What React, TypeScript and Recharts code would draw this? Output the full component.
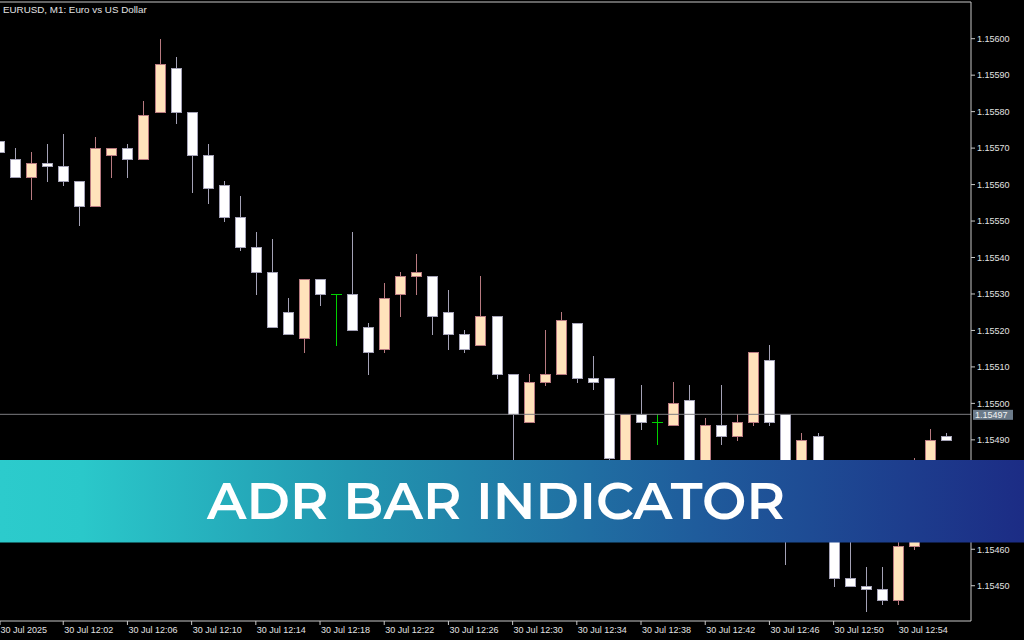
import React from 'react';
import { ComposedChart, Bar, XAxis, YAxis, ReferenceLine } from 'recharts';

const chartTitle = 'EURUSD, M1:  Euro vs US Dollar';
const bannerText = 'ADR BAR INDICATOR';

const times = [
  '11:58', '11:59', '12:00', '12:01', '12:02', '12:03', '12:04', '12:05', '12:06', '12:07',
  '12:08', '12:09', '12:10', '12:11', '12:12', '12:13', '12:14', '12:15', '12:16', '12:17',
  '12:18', '12:19', '12:20', '12:21', '12:22', '12:23', '12:24', '12:25', '12:26', '12:27',
  '12:28', '12:29', '12:30', '12:31', '12:32', '12:33', '12:34', '12:35', '12:36', '12:37',
  '12:38', '12:39', '12:40', '12:41', '12:42', '12:43', '12:44', '12:45', '12:46', '12:47',
  '12:48', '12:49', '12:50', '12:51', '12:52', '12:53', '12:54', '12:55', '12:56', '12:57',
];

const opens = [
  1.15572, 1.15567, 1.15562, 1.15566, 1.15565, 1.15561, 1.15554, 1.15568, 1.1557, 1.15567,
  1.1558, 1.15592, 1.1558, 1.15568, 1.1556, 1.15551, 1.15543, 1.15536, 1.15525, 1.15518,
  1.15534, 1.1553, 1.1553, 1.15521, 1.15515, 1.1553, 1.15535, 1.15535, 1.15525, 1.15519,
  1.15516, 1.15524, 1.15508, 1.15495, 1.15506, 1.15508, 1.15522, 1.15507, 1.15507, 1.15474,
  1.15497, 1.15495, 1.15494, 1.15501, 1.15475, 1.15494, 1.15491, 1.15495, 1.15512, 1.15497,
  1.15471, 1.15491, 1.15468, 1.15452, 1.1545, 1.15449, 1.15446, 1.15461, 1.15466, 1.15491,
];

const highs = [
  1.15572, 1.1557, 1.15569, 1.15571, 1.15574, 1.15561, 1.15573, 1.1557, 1.15571, 1.15583,
  1.156, 1.15595, 1.1558, 1.15571, 1.15561, 1.15557, 1.15547, 1.15545, 1.15529, 1.15534,
  1.15534, 1.1553, 1.15547, 1.15522, 1.15533, 1.15536, 1.15541, 1.15535, 1.15531, 1.1552,
  1.15535, 1.15524, 1.15508, 1.15508, 1.1552, 1.15525, 1.15522, 1.15513, 1.15507, 1.15497,
  1.15505, 1.15497, 1.15506, 1.15505, 1.15496, 1.15505, 1.15497, 1.15514, 1.15516, 1.15497,
  1.15492, 1.15492, 1.1547, 1.15466, 1.15455, 1.15455, 1.15464, 1.15485, 1.15493, 1.15492,
];

const lows = [
  1.15569, 1.15562, 1.15556, 1.15561, 1.1556, 1.15549, 1.15554, 1.15562, 1.15562, 1.15567,
  1.1558, 1.15577, 1.15558, 1.15555, 1.1555, 1.15542, 1.1553, 1.15521, 1.15519, 1.15514,
  1.15527, 1.15516, 1.1552, 1.15508, 1.15514, 1.15524, 1.1553, 1.15519, 1.15515, 1.15514,
  1.15516, 1.15507, 1.15472, 1.15495, 1.15505, 1.15508, 1.15506, 1.15504, 1.15484, 1.15472,
  1.15493, 1.15489, 1.15494, 1.1547, 1.15473, 1.15489, 1.1549, 1.15494, 1.15494, 1.15456,
  1.15468, 1.15466, 1.1545, 1.1545, 1.15443, 1.15445, 1.15445, 1.1546, 1.15464, 1.1549,
];

const closes = [
  1.15569, 1.15562, 1.15566, 1.15565, 1.15561, 1.15554, 1.1557, 1.1557, 1.15567, 1.15579,
  1.15593, 1.1558, 1.15568, 1.15559, 1.15551, 1.15543, 1.15536, 1.15521, 1.15519, 1.15534,
  1.1553, 1.1553, 1.1552, 1.15514, 1.15529, 1.15535, 1.15536, 1.15524, 1.15519, 1.15515,
  1.15524, 1.15508, 1.15497, 1.15506, 1.15508, 1.15523, 1.15507, 1.15506, 1.15485, 1.15497,
  1.15495, 1.15495, 1.155, 1.15474, 1.15494, 1.15491, 1.15495, 1.15514, 1.15495, 1.1547,
  1.1549, 1.15468, 1.15452, 1.1545, 1.15449, 1.15446, 1.15461, 1.15464, 1.1549, 1.1549,
];

const priceTicks = [
  1.1545, 1.1546, 1.1547, 1.1548, 1.1549, 1.155, 1.1551, 1.1552,
  1.1553, 1.1554, 1.1555, 1.1556, 1.1557, 1.1558, 1.1559, 1.156,
];
const priceMin = 1.1544033;
const priceMax = 1.1561006;
const currentPrice = 1.15497;

const timeTickValues = [0.06, 4, 8, 12, 16, 20, 24, 28, 32, 36, 40, 44, 48, 52, 56];
const timeTickLabels = [
  '30 Jul 2025', '30 Jul 12:02', '30 Jul 12:06', '30 Jul 12:10', '30 Jul 12:14',
  '30 Jul 12:18', '30 Jul 12:22', '30 Jul 12:26', '30 Jul 12:30', '30 Jul 12:34',
  '30 Jul 12:38', '30 Jul 12:42', '30 Jul 12:46', '30 Jul 12:50', '30 Jul 12:54',
];

const candles = times.map((t, i) => ({
  idx: i,
  time: t,
  open: opens[i],
  high: highs[i],
  low: lows[i],
  close: closes[i],
}));

const BULL_FILL = '#ffe3bb';
const BULL_LINE = '#b87a80';
const BEAR_FILL = '#ffffff';
const BEAR_LINE = '#a4a2b6';
const DOJI = '#00d000';
const AXIS = '#c8c8c8';
const TEXT = '#e2e2e2';
const FONT = 'Tahoma, "Liberation Sans", Arial, sans-serif';

const Candle = (props: any) => {
  const { x, y, width, height, payload } = props;
  if (x == null || y == null || !payload) return null;
  const { open, close, high, low } = payload;
  const top = Math.min(y, y + height);
  const h = Math.abs(height);
  const span = high - low;
  const toY = (v: number) => (span === 0 ? top : top + ((high - v) / span) * h);
  const cx = Math.floor(x + width / 2);
  const wickX = cx + 0.5;
  const yH = Math.round(toY(high));
  const yL = Math.round(toY(low));
  if (open === close) {
    const yb = Math.round(toY(open)) + 0.5;
    return (
      <g>
        <line x1={wickX} x2={wickX} y1={yH} y2={yL + 1} stroke={DOJI} strokeWidth={1} />
        <line x1={cx - 5} x2={cx + 6} y1={yb} y2={yb} stroke={DOJI} strokeWidth={1} />
      </g>
    );
  }
  const bull = close > open;
  const yTop = Math.round(toY(Math.max(open, close))) + 0.5;
  const yBot = Math.round(toY(Math.min(open, close))) + 0.5;
  const line = bull ? BULL_LINE : BEAR_LINE;
  const fill = bull ? BULL_FILL : BEAR_FILL;
  return (
    <g>
      <line x1={wickX} x2={wickX} y1={yH} y2={yL + 1} stroke={line} strokeWidth={1} />
      <rect x={cx - 4.5} y={yTop} width={10} height={Math.max(yBot - yTop, 1)} fill={fill} stroke={line} strokeWidth={1} />
    </g>
  );
};

const TimeTick = (props: any) => {
  const { x, y, payload } = props;
  const i = timeTickValues.indexOf(payload.value);
  const label = i >= 0 ? timeTickLabels[i] : '';
  const tx = i === 0 ? x + 0.5 : x + 1;
  return (
    <text x={tx} y={y + 8} fill={TEXT} fontSize={9} fontFamily={FONT} textAnchor="start">
      {label}
    </text>
  );
};

const PriceTick = (props: any) => {
  const { x, y, payload } = props;
  return (
    <text x={x} y={y + 3.3} fill={TEXT} fontSize={9} fontFamily={FONT} textAnchor="start">
      {Number(payload.value).toFixed(5)}
    </text>
  );
};

const PriceLabel = (props: any) => {
  const vb = props.viewBox || {};
  const bx = vb.x + vb.width + 2;
  const by = vb.y;
  return (
    <g>
      <rect x={bx} y={by - 4.5} width={40} height={10} fill="#6b7a89" />
      <text x={bx + 2} y={by + 3.3} fill="#f2f2f2" fontSize={9} fontFamily={FONT}>
        {currentPrice.toFixed(5)}
      </text>
    </g>
  );
};

export default function App() {
  return (
    <div
      style={{
        position: 'fixed',
        left: 0,
        top: 0,
        width: 1024,
        height: 640,
        background: '#000',
        overflow: 'hidden',
      }}
    >
      <ComposedChart
        width={1024}
        height={640}
        data={candles}
        margin={{ top: 2, right: 0, bottom: 0, left: 0 }}
        style={{ position: 'absolute', left: 0, top: 0 }}
      >
        <XAxis
          dataKey="idx"
          type="number"
          domain={[0.06, 60.56]}
          allowDataOverflow
          ticks={timeTickValues}
          interval={0}
          height={19}
          tickSize={4}
          tickMargin={0}
          axisLine={{ stroke: AXIS }}
          tickLine={{ stroke: AXIS }}
          tick={<TimeTick />}
        />
        <YAxis
          orientation="right"
          type="number"
          domain={[priceMin, priceMax]}
          allowDataOverflow
          ticks={priceTicks}
          interval={0}
          width={53}
          tickSize={4}
          tickMargin={2}
          axisLine={{ stroke: AXIS }}
          tickLine={{ stroke: AXIS }}
          tick={<PriceTick />}
        />
        <ReferenceLine y={priceMax} stroke={AXIS} strokeWidth={1} ifOverflow="visible" />
        <ReferenceLine
          y={currentPrice}
          stroke="#7c7c80"
          strokeWidth={1}
          label={<PriceLabel />}
        />
        <Bar
          dataKey={(d: any) => [d.low, d.high]}
          barSize={11}
          shape={<Candle />}
          isAnimationActive={false}
        />
      </ComposedChart>
      <svg
        width={1024}
        height={640}
        style={{ position: 'absolute', left: 0, top: 0, pointerEvents: 'none' }}
      >
        <defs>
          <linearGradient id="bannerGrad" x1="0" y1="0" x2="1" y2="0">
            <stop offset="0" stopColor="#2ccbcc" />
            <stop offset="0.08" stopColor="#2ac8ca" />
            <stop offset="0.34" stopColor="#2297b0" />
            <stop offset="0.68" stopColor="#1f5c9c" />
            <stop offset="1" stopColor="#1c2c85" />
          </linearGradient>
        </defs>
        <text x={3} y={13} fill={TEXT} fontSize={9.8} fontFamily={FONT}>
          {chartTitle}
        </text>
        <rect x={0} y={460} width={1024} height={82.5} fill="url(#bannerGrad)" />
        <text
          x={207}
          y={518.5}
          fill="#ffffff"
          fontSize={52}
          fontWeight={600}
          fontFamily='Montserrat, "Open Sans", sans-serif'
          textLength={578}
          lengthAdjust="spacingAndGlyphs"
        >
          {bannerText}
        </text>
      </svg>
    </div>
  );
}
